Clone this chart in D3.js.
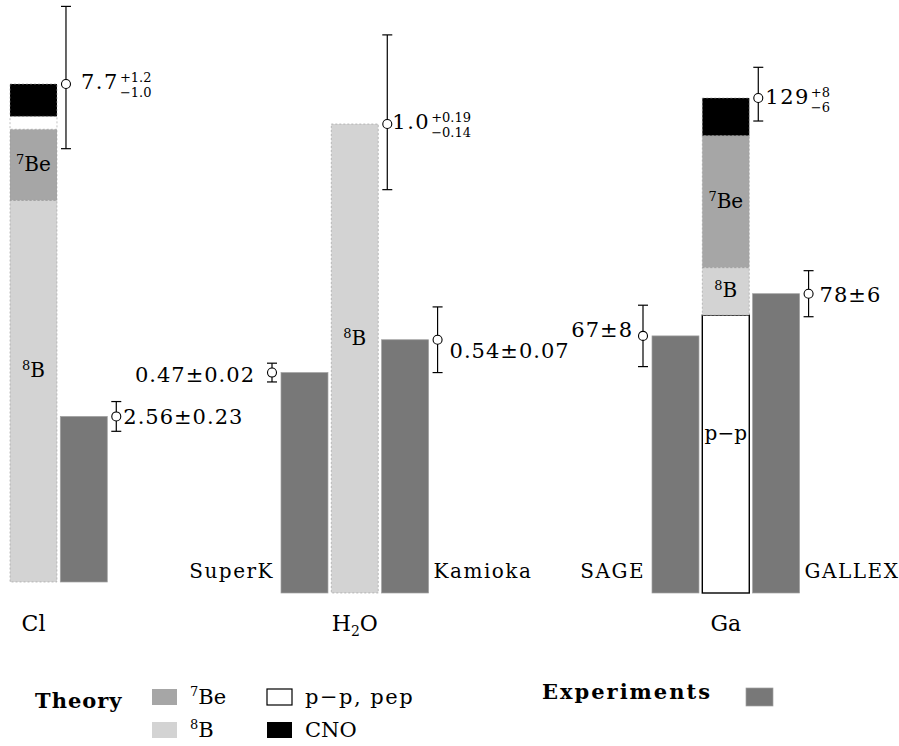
<!DOCTYPE html>
<html><head><meta charset="utf-8">
<script src="https://cdn.jsdelivr.net/npm/d3@7"></script>
<style>
body{margin:0;background:#fff}
svg{display:block}
text{font-family:"DejaVu Serif",serif;fill:#000}
</style>
</head><body>
<svg id="c" width="899" height="746"></svg>
<script>
// ---------------- DATA ----------------
const groups = ["Cl", "H₂O", "Ga"];
const sourceNames = ["pp", "8B", "7Be", "CNO"];
const sourceColors = ["#ffffff", "#d3d3d3", "#a6a6a6", "#000000"];

// theory components, bottom to top
const clTheoryOrder = ["8B", "7Be", "pp", "CNO"];
const clTheoryValues = [5.9, 1.1, 0.2, 0.5];          // SNU
const h2oTheoryOrder = ["8B"];
const h2oTheoryValues = [1.0];                         // ratio to SSM
const gaTheoryOrder = ["pp", "8B", "7Be", "CNO"];
const gaTheoryValues = [72.4, 12.4, 34.4, 9.8];       // SNU

const theoryTotals = [7.7, 1.0, 129];
const theoryErrUp = [1.2, 0.19, 8];
const theoryErrDown = [1.0, 0.14, 6];
const theoryMainLabels = ["7.7", "1.0", "129"];
const theoryUpLabels = ["+1.2", "+0.19", "+8"];
const theoryDownLabels = ["−1.0", "−0.14", "−6"];

const expNames = ["Homestake", "SuperK", "Kamioka", "SAGE", "GALLEX"];
const expGroups = ["Cl", "H₂O", "H₂O", "Ga", "Ga"];
const expValues = [2.56, 0.47, 0.54, 67, 78];
const expErrors = [0.23, 0.02, 0.07, 8, 6];
const expShowName = [false, true, true, true, true];

// ---------------- LAYOUT ----------------
const svg = d3.select("#c");
const layout = {
  "Cl":  {x0: 10,  bottom: 582, top: 84},
  "H₂O": {x0: 281, bottom: 593, top: 124},
  "Ga":  {x0: 652, bottom: 593, top: 98}
};
const step = 50.3, pad = 0.066;
const color = d3.scaleOrdinal().domain(sourceNames).range(sourceColors);
const innerLabel = {"8B": ["8", "B"], "7Be": ["7", "Be"], "pp": ["", "p−p"]};
const theoryOrders = [clTheoryOrder, h2oTheoryOrder, gaTheoryOrder];
const theoryValues = [clTheoryValues, h2oTheoryValues, gaTheoryValues];

const theoryLabelOff = [{dx: 15, dy: 5}, {dx: 5, dy: 5}, {dx: 7, dy: 6}];
const expLabelOff = {
  "Homestake": {dx: 7, dy: 8},
  "SuperK": {dx: -17, dy: 9},
  "Kamioka": {dx: 12, dy: 18},
  "SAGE": {dx: -10, dy: 1},
  "GALLEX": {dx: 11, dy: 8}
};
const fmt = v => String(v);

function errorBar(g, cx, y, lo, hi) {
  g.append("line").attr("x1", cx).attr("x2", cx).attr("y1", y(hi)).attr("y2", y(lo))
    .attr("stroke", "#000").attr("stroke-width", 1.2);
  [lo, hi].forEach(v => g.append("line").attr("x1", cx - 5).attr("x2", cx + 5)
    .attr("y1", y(v)).attr("y2", y(v)).attr("stroke", "#000").attr("stroke-width", 1.2));
}
function marker(g, cx, cy) {
  g.append("circle").attr("cx", cx).attr("cy", cy).attr("r", 4.5)
    .attr("fill", "#fff").attr("stroke", "#000").attr("stroke-width", 1.1);
}

groups.forEach((gname, gi) => {
  const L = layout[gname];
  const exps = expNames.map((n, i) => ({name: n, group: expGroups[i], value: expValues[i],
      err: expErrors[i], show: expShowName[i]})).filter(e => e.group === gname);
  const order = exps.length === 2 ? [exps[0].name, "theory", exps[1].name] : ["theory", exps[0].name];
  const x = d3.scaleBand().domain(order)
    .range([L.x0, L.x0 + step * (order.length - pad)]).paddingInner(pad).paddingOuter(0);
  const y = d3.scaleLinear().domain([0, theoryTotals[gi]]).range([L.bottom, L.top]);
  const G = svg.append("g");

  // theory stack
  let acc = 0;
  const comps = theoryOrders[gi].map((s, k) => {
    const c = {source: s, y0: acc, y1: acc + theoryValues[gi][k]};
    acc = c.y1; return c;
  });
  const tx = x("theory"), bw = x.bandwidth();
  const boxed = d => d.source === "pp" && (y(d.y0) - y(d.y1)) > 40;
  G.selectAll("rect.th").data(comps).enter().append("rect")
    .attr("x", tx).attr("width", bw)
    .attr("y", d => y(d.y1)).attr("height", d => y(d.y0) - y(d.y1))
    .attr("fill", d => color(d.source))
    .attr("stroke", d => boxed(d) ? "#000" : "#999")
    .attr("stroke-width", d => boxed(d) ? 1.4 : 0.6)
    .attr("stroke-dasharray", d => boxed(d) ? null : "2,2");
  comps.forEach(d => {
    const h = y(d.y0) - y(d.y1);
    if (d.source === "CNO" || h < 40) return;
    const lab = innerLabel[d.source];
    const cy = (y(d.y0) + y(d.y1)) / 2 + (h > 200 ? -14 : 6);
    const t = G.append("text").attr("x", tx + bw / 2).attr("y", cy)
      .attr("text-anchor", "middle").attr("font-size", 20);
    if (lab[0]) t.append("tspan").attr("font-size", 13).attr("dy", -7).text(lab[0]);
    t.append("tspan").attr("dy", lab[0] ? 7 : 0).text(lab[1]);
  });

  // theory error bar + label
  const ex = tx + bw + 9;
  const total = theoryTotals[gi];
  errorBar(G, ex, y, total - theoryErrDown[gi], total + theoryErrUp[gi]);
  marker(G, ex, y(total));
  const off = theoryLabelOff[gi];
  const main = G.append("text").attr("x", ex + off.dx).attr("y", y(total) + off.dy)
    .attr("font-size", 21).attr("letter-spacing", 1.5).text(theoryMainLabels[gi]);
  const mw = main.node().getComputedTextLength();
  G.append("text").attr("x", ex + off.dx + mw + 1).attr("y", y(total) + off.dy - 7)
    .attr("font-size", 13).text(theoryUpLabels[gi]);
  G.append("text").attr("x", ex + off.dx + mw + 1).attr("y", y(total) + off.dy + 8)
    .attr("font-size", 13).text(theoryDownLabels[gi]);

  // experiment bars
  exps.forEach(e => {
    const bx = x(e.name);
    const left = order.indexOf(e.name) < order.indexOf("theory");
    G.append("rect").attr("x", bx).attr("width", bw)
      .attr("y", y(e.value)).attr("height", y(0) - y(e.value))
      .attr("fill", "#787878").attr("stroke", "#a0a0a0").attr("stroke-width", 0.7);
    const cx = left ? bx - 9 : bx + bw + 9;
    errorBar(G, cx, y, e.value - e.err, e.value + e.err);
    marker(G, cx, y(e.value));
    const o = expLabelOff[e.name];
    G.append("text").attr("x", cx + o.dx).attr("y", y(e.value) + o.dy)
      .attr("text-anchor", left ? "end" : "start")
      .attr("font-size", 21).attr("letter-spacing", 1)
      .text(fmt(e.value) + "±" + fmt(e.err));
    if (e.show) {
      G.append("text").attr("x", left ? bx - 7 : bx + bw + 5).attr("y", L.bottom - 15)
        .attr("text-anchor", left ? "end" : "start")
        .attr("font-size", 20).attr("letter-spacing", 1.5).text(e.name);
    }
  });

  // group label
  const gl = G.append("text").attr("x", tx + bw / 2).attr("y", 631)
    .attr("text-anchor", "middle").attr("font-size", 22);
  if (gname === "H₂O") {
    gl.append("tspan").text("H");
    gl.append("tspan").attr("font-size", 14).attr("dy", 5).text("2");
    gl.append("tspan").attr("dy", -5).text("O");
  } else gl.text(gname);
});

// ---------------- LEGEND ----------------
const Lg = svg.append("g");
Lg.append("text").attr("x", 35).attr("y", 708).attr("font-size", 21)
  .attr("font-weight", "bold").attr("letter-spacing", 1).text("Theory");
const legendItems = [
  {s: "7Be", x: 152, y: 689, sup: "7", txt: "Be"},
  {s: "8B",  x: 152, y: 722, sup: "8", txt: "B"},
  {s: "pp",  x: 267, y: 689, sup: "", txt: "p−p,  pep"},
  {s: "CNO", x: 267, y: 722, sup: "", txt: "CNO"}
];
legendItems.forEach(d => {
  Lg.append("rect").attr("x", d.x).attr("y", d.y).attr("width", 25).attr("height", 16)
    .attr("fill", color(d.s)).attr("stroke", d.s === "pp" ? "#000" : "none").attr("stroke-width", 1.2);
  const t = Lg.append("text").attr("x", d.x + 38).attr("y", d.y + 15).attr("font-size", 21);
  if (d.sup) t.append("tspan").attr("font-size", 13).attr("dy", -8).text(d.sup);
  t.append("tspan").attr("dy", d.sup ? 8 : 0).attr("letter-spacing", d.s === "pp" ? 1.5 : 0).text(d.txt);
});
Lg.append("text").attr("x", 542).attr("y", 699).attr("font-size", 21)
  .attr("font-weight", "bold").attr("letter-spacing", 2).text("Experiments");
Lg.append("rect").attr("x", 746).attr("y", 688).attr("width", 27).attr("height", 18)
  .attr("fill", "#787878").attr("stroke", "#a0a0a0").attr("stroke-width", 0.7);
</script>
</body></html>
